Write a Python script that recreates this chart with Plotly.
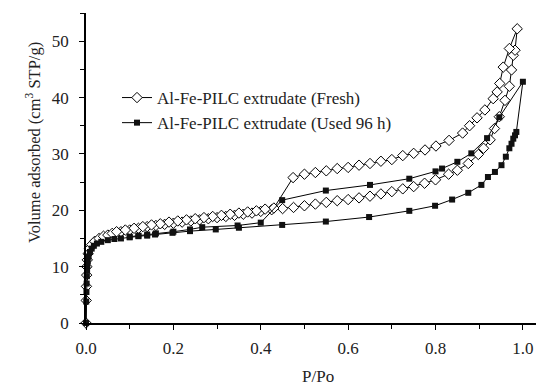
import plotly.graph_objects as go

# Fresh extrudate: adsorption branch
fresh_ads_x = [0, 0.0005, 0.001, 0.0015, 0.002, 0.003, 0.005, 0.008, 0.013, 0.02, 0.03, 0.04, 0.05, 0.06,
               0.08, 0.1, 0.12, 0.14, 0.16, 0.18, 0.2, 0.22, 0.24, 0.26, 0.28, 0.3, 0.32, 0.34, 0.36, 0.38,
               0.4, 0.425, 0.45, 0.475, 0.5, 0.525, 0.55, 0.575, 0.6, 0.625, 0.65, 0.675, 0.7, 0.725, 0.75,
               0.775, 0.8, 0.83, 0.85, 0.875, 0.898, 0.91, 0.925, 0.935, 0.946, 0.959, 0.969, 0.974, 0.978,
               0.982, 0.987]
fresh_ads_y = [0, 4.0, 6.5, 8.5, 10.0, 11.2, 12.3, 13.2, 13.9, 14.5, 15.0, 15.4, 15.6, 15.9,
               16.2, 16.5, 16.8, 17.1, 17.3, 17.5, 17.7, 17.9, 18.1, 18.3, 18.5, 18.7, 18.9, 19.1, 19.3, 19.5,
               19.8, 20.1, 20.3, 20.5, 20.8, 21.1, 21.4, 21.7, 21.9, 22.2, 22.5, 22.9, 23.3, 23.8, 24.2,
               24.8, 25.4, 26.4, 27.1, 28.3, 29.9, 31.0, 32.5, 34.5, 36.6, 39.5, 42.0, 44.9, 47.5,
               48.4, 52.2]
# Fresh extrudate: desorption branch
fresh_des_x = [0.969, 0.955, 0.947, 0.941, 0.932, 0.913, 0.895, 0.878, 0.862, 0.831, 0.801, 0.776, 0.75,
               0.725, 0.7, 0.675, 0.65, 0.625, 0.6, 0.575, 0.55, 0.525, 0.5, 0.474, 0.43, 0.41, 0.39, 0.37,
               0.35, 0.33, 0.31, 0.29, 0.27, 0.25, 0.23, 0.21, 0.19, 0.17, 0.15, 0.13, 0.11, 0.09, 0.07]
fresh_des_y = [48.7, 45.4, 42.5, 41.0, 39.8, 37.8, 36.4, 35.0, 33.7, 32.4, 31.4, 30.7, 30.1,
               29.7, 29.0, 28.7, 28.3, 28.0, 27.6, 27.4, 27.0, 26.7, 26.4, 25.8, 20.4, 20.2, 19.9, 19.7,
               19.5, 19.3, 19.1, 18.9, 18.7, 18.5, 18.3, 18.1, 17.9, 17.6, 17.4, 17.1, 16.8, 16.5, 16.2]

# Used 96 h: adsorption branch
used_ads_x = [0, 0.0005, 0.001, 0.0015, 0.002, 0.0025, 0.003, 0.004, 0.006, 0.009, 0.013, 0.018, 0.025,
              0.035, 0.05, 0.065, 0.08, 0.1, 0.12, 0.14, 0.158, 0.198, 0.238, 0.297, 0.35, 0.449, 0.549,
              0.648, 0.74, 0.799, 0.838, 0.875, 0.905, 0.92, 0.936, 0.951, 0.961, 0.969, 0.974, 0.978,
              0.982, 0.985, 1.0]
used_ads_y = [0, 3.8, 5.5, 7.0, 8.3, 9.3, 10.2, 11.0, 11.8, 12.6, 13.2, 13.7, 14.1,
              14.4, 14.7, 14.9, 15.0, 15.2, 15.4, 15.5, 15.7, 16.0, 16.3, 16.6, 16.9, 17.4, 18.0,
              18.8, 19.9, 20.8, 21.9, 23.1, 24.5, 25.9, 26.8, 28.0, 29.5, 31.0, 31.8, 32.7,
              33.3, 33.9, 42.8]
# Used 96 h: desorption branch
used_des_x = [0.946, 0.918, 0.882, 0.85, 0.815, 0.8, 0.74, 0.65, 0.549, 0.449, 0.40, 0.347, 0.266,
              0.238, 0.2, 0.16, 0.14, 0.12, 0.1]
used_des_y = [36.5, 32.8, 30.1, 28.6, 27.4, 26.9, 25.6, 24.5, 23.5, 21.8, 17.8, 17.3, 17.0,
              16.6, 16.2, 15.9, 15.7, 15.5, 15.3]

font_family = "Liberation Serif"
txt = "#222222"

W, H = 537, 389
ML, MR, MT, MB = 86, 1, 13, 66
plot_w = W - ML - MR
plot_h = H - MT - MB

fig = go.Figure()
fig.add_trace(go.Scatter(
    x=fresh_ads_x + fresh_des_x, y=fresh_ads_y + fresh_des_y,
    mode="lines+markers", name="Al-Fe-PILC extrudate (Fresh)",
    line=dict(color="black", width=1),
    marker=dict(symbol="diamond", size=8, color="white", line=dict(color="black", width=1)),
    cliponaxis=False,
))
fig.add_trace(go.Scatter(
    x=used_ads_x + used_des_x, y=used_ads_y + used_des_y,
    mode="lines+markers", name="Al-Fe-PILC extrudate (Used 96 h)",
    line=dict(color="black", width=1),
    marker=dict(symbol="square", size=6, color="#111111", line=dict(width=0)),
    cliponaxis=False,
))

fig.update_layout(
    width=W, height=H,
    margin=dict(l=ML, r=MR, t=MT, b=MB),
    paper_bgcolor="white", plot_bgcolor="white",
    font=dict(family=font_family, size=17, color=txt),
    showlegend=True,
    legend=dict(x=(117 - ML) / plot_w, y=(H - MB - 80) / plot_h, xanchor="left", yanchor="top",
                traceorder="normal",
                bgcolor="rgba(0,0,0,0)", font=dict(family=font_family, size=17, color=txt),
                itemwidth=30, tracegroupgap=0),
    xaxis=dict(range=[0, 1.03], tickvals=[0, 0.2, 0.4, 0.6, 0.8, 1.0], tickformat=".1f",
               showline=True, linecolor="black", linewidth=1.5, showgrid=False, zeroline=False,
               ticks="outside", ticklen=5, tickcolor="black", ticklabelstandoff=4,
               minor=dict(ticks="outside", dtick=0.1, tick0=0, ticklen=4, tickcolor="black"),
               tickfont=dict(family=font_family, size=17, color=txt)),
    yaxis=dict(range=[0, 55], tickvals=[0, 10, 20, 30, 40, 50],
               showline=True, linecolor="black", linewidth=1.5, showgrid=False, zeroline=False,
               ticks="outside", ticklen=5, tickcolor="black", ticklabelstandoff=7,
               minor=dict(ticks="outside", dtick=5, tick0=0, ticklen=4, tickcolor="black"),
               tickfont=dict(family=font_family, size=17, color=txt)),
    annotations=[
        dict(text="P/Po", x=(318 - ML) / plot_w, xref="paper", y=(H - MB - 376) / plot_h, yref="paper",
             xanchor="center", yanchor="middle",
             showarrow=False, font=dict(family=font_family, size=17, color=txt)),
        dict(text="Volume adsorbed (cm<sup>3</sup> STP/g)", textangle=-90,
             xref="paper", yref="paper", x=(33 - ML) / plot_w, y=(H - MB - 143) / plot_h,
             xanchor="center", yanchor="middle",
             showarrow=False, font=dict(family=font_family, size=16.5, color=txt)),
    ],
)

fig.write_html("out.html")
